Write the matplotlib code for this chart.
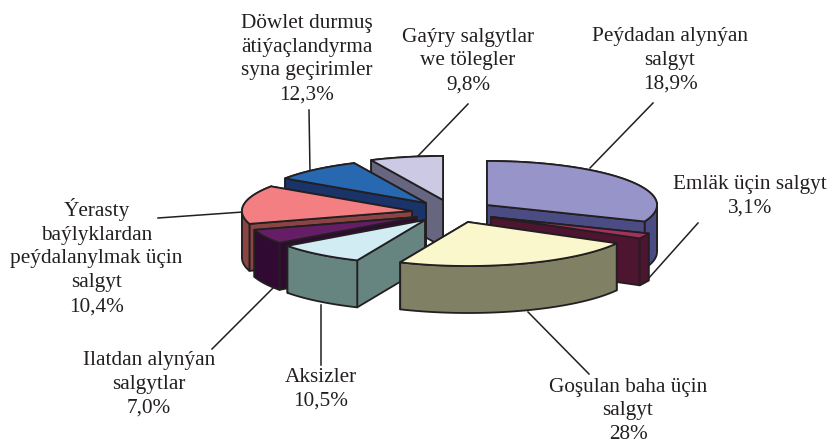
#3D exploded pie of budget income shares

import numpy as np
import matplotlib
matplotlib.use("Agg")
import matplotlib.pyplot as plt
from matplotlib.patches import Polygon

labels = ["Peýdadan alynýan\nsalgyt", "Emläk üçin salgyt", "Goşulan baha üçin\nsalgyt", "Aksizler",
          "Ilatdan alynýan\nsalgytlar", "Ýerasty\nbaýlyklardan\npeýdalanylmak üçin\nsalgyt",
          "Döwlet durmuş\nätiýaçlandyrma\nsyna geçirimler", "Gaýry salgytlar\nwe tölegler"]
values = [18.9, 3.1, 28, 10.5, 7.0, 10.4, 12.3, 9.8]
value_text = ["18,9%", "3,1%", "28%", "10,5%", "7,0%", "10,4%", "12,3%", "9,8%"]

top_colors = ["#9694c8", "#a8305f", "#fbf7cd", "#d2ecf4", "#651d66", "#f47f83", "#2868b0", "#ccc9e4"]
wall_colors = ["#4b4c84", "#4d1530", "#7f8064", "#668480", "#300a33", "#8a4444", "#1a3368", "#666680"]

# where each slice's tip sits after the explosion (pixels)
tips = [(487, 205), (491, 217), (468, 222), (425, 220), (417, 217), (412, 211), (426, 203), (443, 200)]
label_pos = [(670, 60), (750, 196), (628, 411), (321, 389), (149, 384), (96.5, 257), (307, 59), (468, 61)]
leaders = [((590, 168), (653, 103)), ((648, 279), (698, 223)), ((528, 312), (589, 374)), ((321, 305), (321, 365)),
           ((273, 288), (212, 349)), ((243, 212), (158, 218)), ((310, 172), (309, 110)), ((418, 156), (468, 104))]

# the tilted pie is not a clean ellipse, angles get stretched on the right
warp_pct = [0, 18.9, 22, 50, 60.5, 67.5, 77.9, 90.2, 100]
warp_deg = [0, 112, 119, 203.5, 234, 253, 304, 335, 360]
rx, ry, depth = 170, 44, 47
line_col = "#231f20"

draw_order = [7, 6, 0, 5, 4, 3, 1, 2]

def arc_points(tip, p0, p1):
    pct = np.linspace(p0, p1, 80)
    t = np.radians(np.interp(pct, warp_pct, warp_deg))
    return np.column_stack([tip[0] + rx * np.sin(t), tip[1] - ry * np.cos(t)])

def wall(a):
    return np.vstack([a, (a + [0, depth])[::-1]])

def arc_walls(arc):
    # split where the arc turns back in x, a folded strip does not fill properly
    dx = np.sign(np.diff(arc[:, 0]))
    cuts = np.where(dx[1:] * dx[:-1] < 0)[0] + 1
    parts = []
    start = 0
    for c in list(cuts) + [len(arc) - 1]:
        parts.append(wall(arc[start:c + 1]))
        start = c
    return parts

fig = plt.figure(figsize=(8.31, 4.45), dpi=100)
ax = fig.add_axes([0, 0, 1, 1])
ax.set_xlim(0, 831)
ax.set_ylim(445, 0)
ax.axis("off")

cum = np.concatenate([[0], np.cumsum(values)])
for i in draw_order:
    tip = np.array(tips[i], dtype=float)
    arc = arc_points(tip, cum[i], cum[i + 1])
    faces = [wall(np.array([tip, arc[0]])), wall(np.array([tip, arc[-1]]))] + arc_walls(arc)
    faces.sort(key=lambda f: f[:, 1].mean())
    for f in faces:
        ax.add_patch(Polygon(f, closed=True, facecolor=wall_colors[i], edgecolor=line_col, linewidth=1.3, joinstyle="round"))
    ax.add_patch(Polygon(np.vstack([tip, arc]), closed=True, facecolor=top_colors[i], edgecolor=line_col, linewidth=1.3, joinstyle="round"))

for (p0, p1) in leaders:
    ax.plot([p0[0], p1[0]], [p0[1], p1[1]], color=line_col, linewidth=1.1, zorder=0)

for lab, val, pos in zip(labels, value_text, label_pos):
    ax.text(pos[0], pos[1], lab + "\n" + val, family="Liberation Serif", fontsize=15.3, color=line_col,
            ha="center", va="center", linespacing=1.35)

fig.savefig("out.png", dpi=100)
